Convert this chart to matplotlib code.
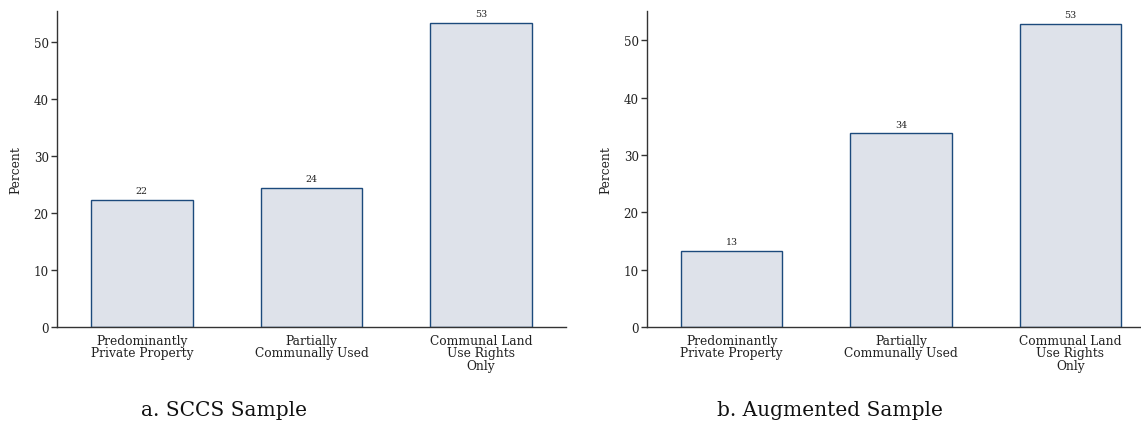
import numpy as np
import matplotlib
matplotlib.use('Agg')
import matplotlib.pyplot as plt

plt.rcParams['font.family'] = ['DejaVu Serif']

# land ownership categories (same for both panels)
categories = ['Predominantly\nPrivate Property',
              'Partially\nCommunally Used',
              'Communal Land\nUse Rights\nOnly']
sccs_pct = [22.3, 24.4, 53.3]       # SCCS sample
augmented_pct = [13.3, 33.8, 52.9]  # augmented sample
yticks = [0, 10, 20, 30, 40, 50]
captions = ['a. SCCS Sample', 'b. Augmented Sample']

bar_fill = '#dee2ea'
bar_edge = '#1c4a7c'
axis_col = '#333333'

fig = plt.figure(figsize=(11.41, 4.31), dpi=100)
ax1 = fig.add_axes([57/1141, 103/431, 509/1141, 316/431])
ax2 = fig.add_axes([647/1141, 103/431, 508/1141, 316/431])

def draw_panel(ax, vals, ytop):
    x = np.arange(1, len(vals) + 1)
    ax.bar(x, vals, width=0.6, color=bar_fill, edgecolor=bar_edge, linewidth=1.0)
    for xi, v in zip(x, vals):
        ax.text(xi, v + 0.8, '%d' % round(v), ha='center', va='bottom',
                fontsize=6.8, color='#222222')
    ax.set_xlim(0.5, 3.5)
    ax.set_ylim(0, ytop)
    ax.set_xticks(x)
    ax.set_xticklabels(categories, fontsize=8.8, linespacing=0.95, color='#222222')
    ax.set_yticks(yticks)
    ax.tick_params(axis='x', length=0, pad=5)
    ax.tick_params(axis='y', length=4, width=1, colors=axis_col, labelsize=8.6,
                   labelcolor='#222222', pad=2)
    for s in ['top', 'right']:
        ax.spines[s].set_visible(False)
    for s in ['left', 'bottom']:
        ax.spines[s].set_color(axis_col)
        ax.spines[s].set_linewidth(1.0)
    ax.set_ylabel('Percent', fontsize=8.8, color='#222222', labelpad=8)

draw_panel(ax1, sccs_pct, 55.4)
draw_panel(ax2, augmented_pct, 55.1)

fig.text(224/1141, 1 - 411/431, captions[0], ha='center', va='center',
         fontsize=14.5, color='#111111')
fig.text(830/1141, 1 - 411/431, captions[1], ha='center', va='center',
         fontsize=14.5, color='#111111')

fig.savefig('out.png', dpi=100)
